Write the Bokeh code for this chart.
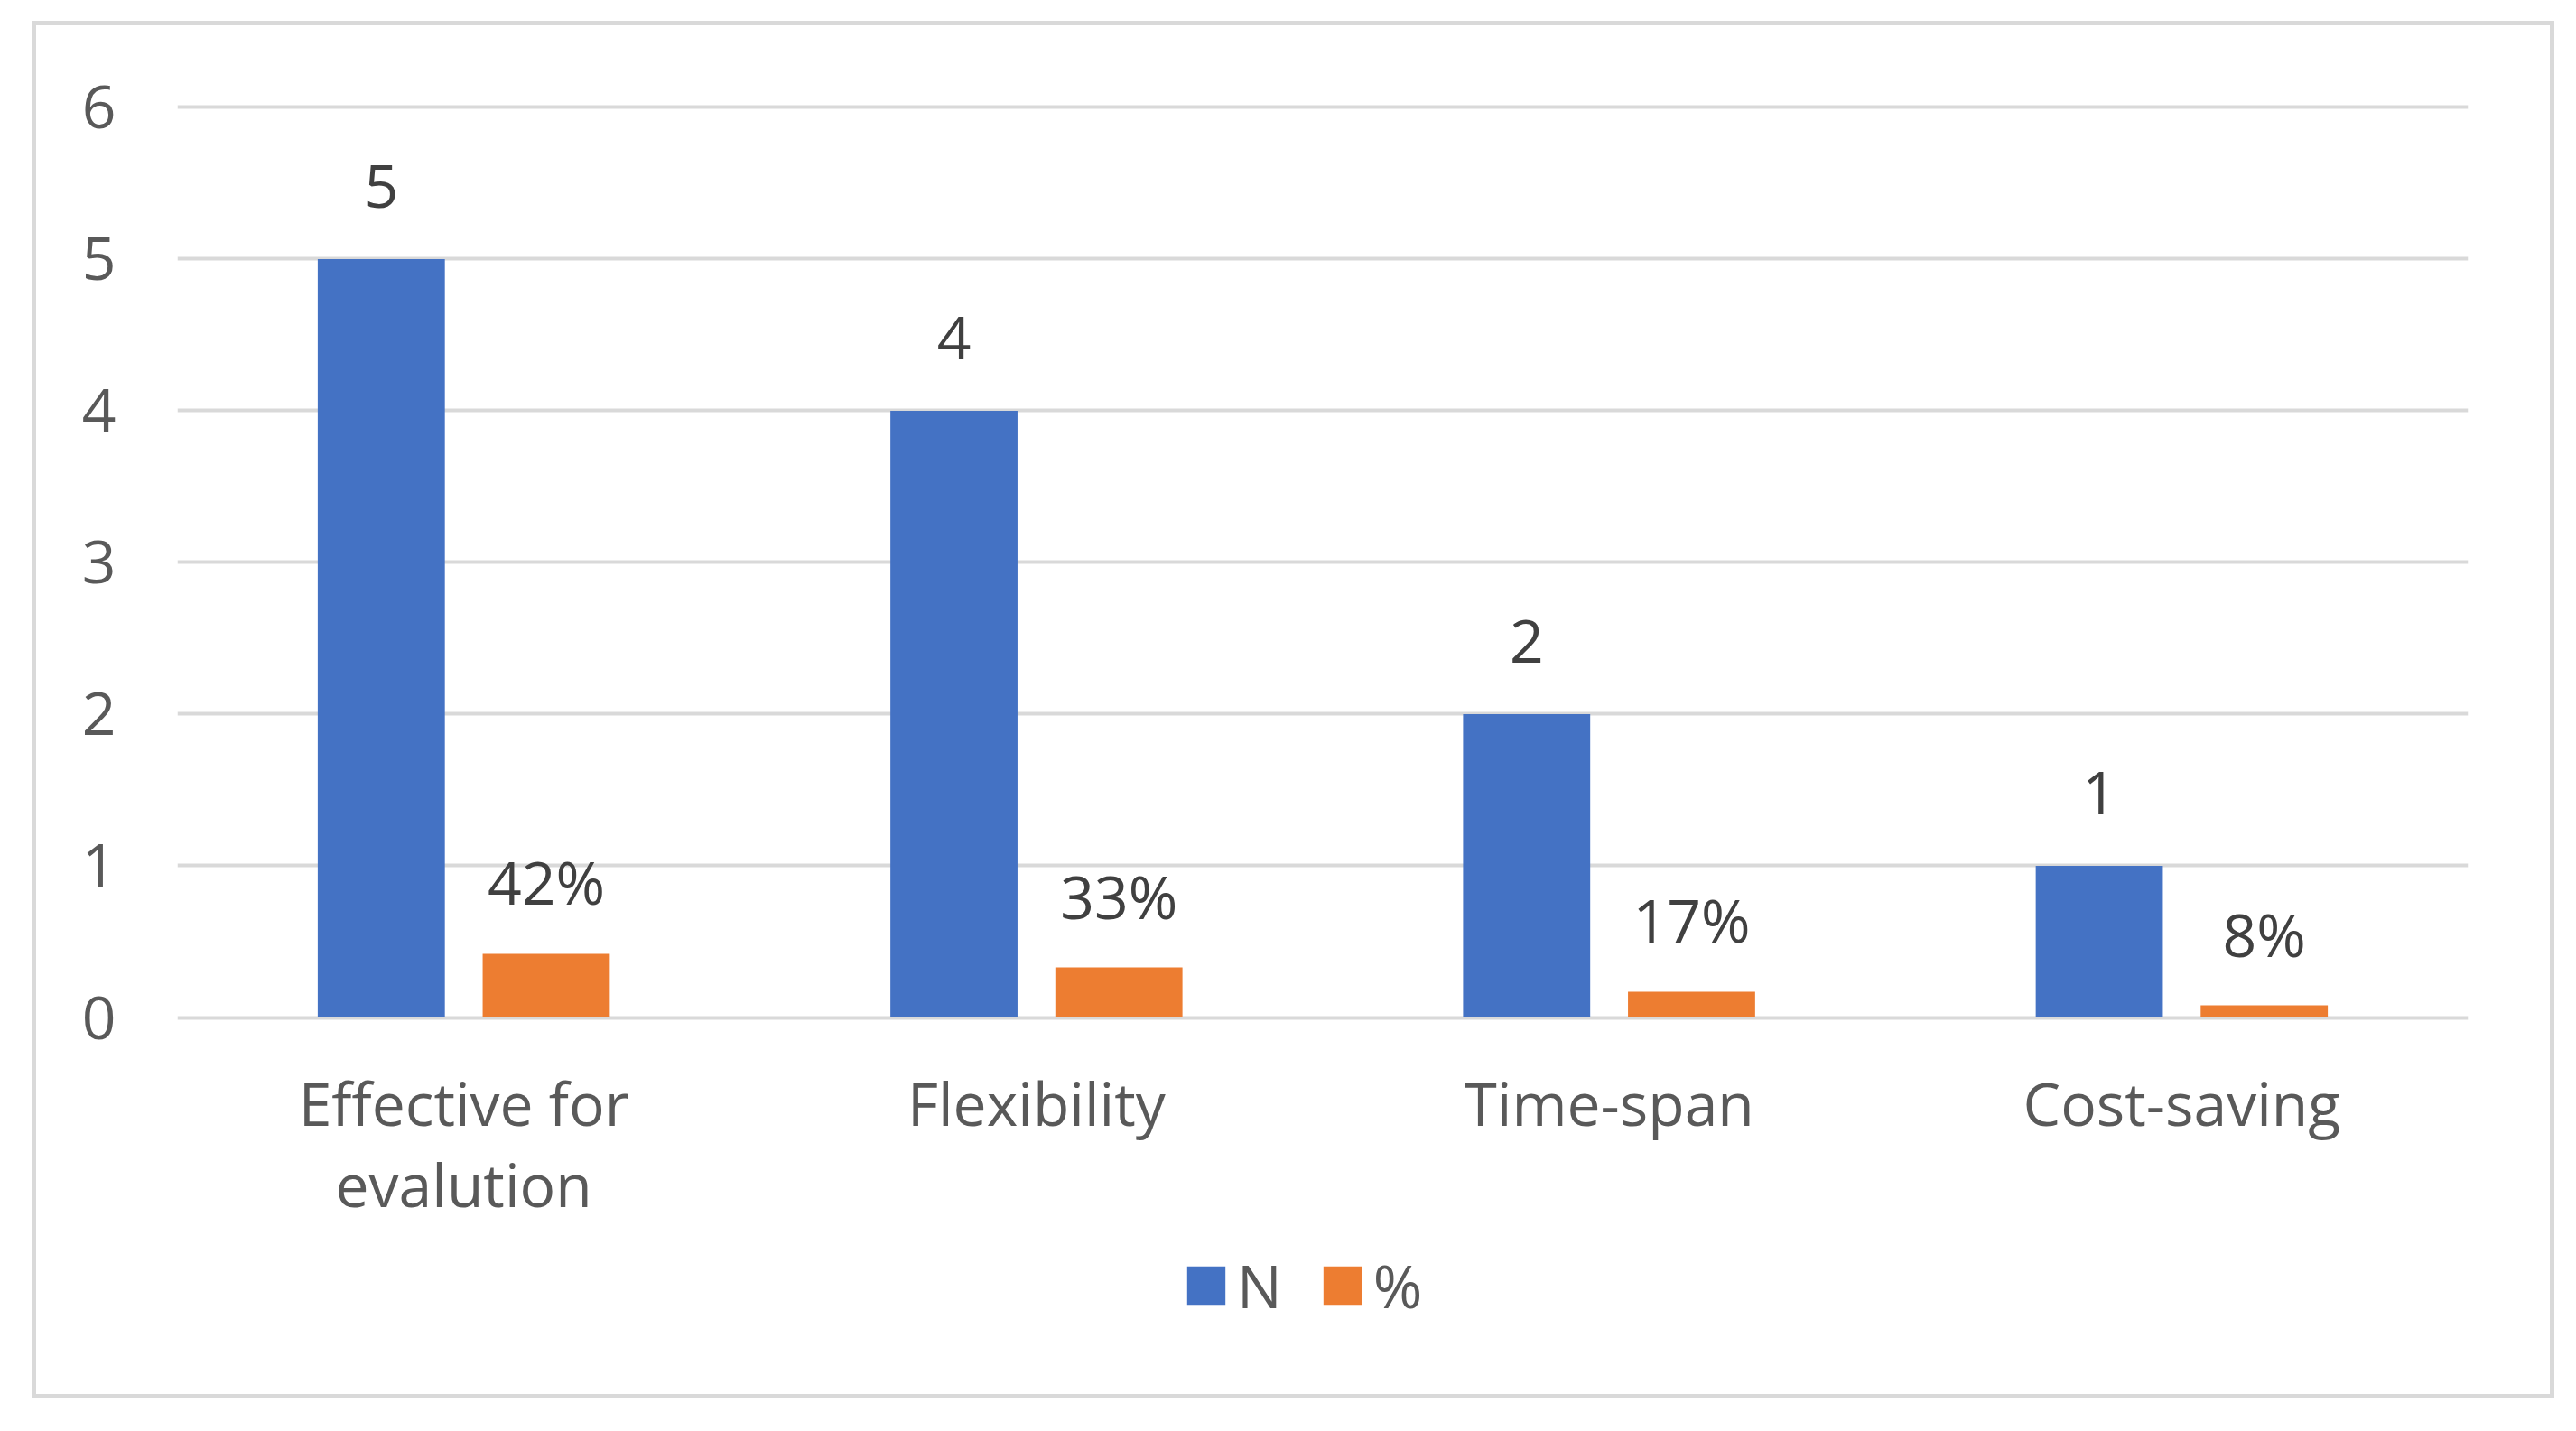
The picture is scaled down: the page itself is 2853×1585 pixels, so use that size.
from bokeh.plotting import figure
from bokeh.models import (ColumnDataSource, FactorRange, Range1d, FixedTicker,
                          LabelSet, Legend, LegendItem)
from bokeh.core.properties import value
from bokeh.transform import dodge
from bokeh.embed import file_html
from bokeh.resources import INLINE

# ---- data ----
categories = ["Effective for\nevalution", "Flexibility", "Time-span", "Cost-saving"]
n_values = [5, 4, 2, 1]
pct_values = [0.42, 0.33, 0.17, 0.08]
n_labels = ["5", "4", "2", "1"]
pct_labels = ["42%", "33%", "17%", "8%"]
y_ticks = [0, 1, 2, 3, 4, 5, 6]
series_names = ["N", "%"]

FONT = "Open Sans"
FS = "66px"
BLUE = "#4472C4"
ORANGE = "#ED7D31"
GRID = "#D9D9D9"

W, H = 2784, 1516

src = ColumnDataSource(dict(cat=categories, n=n_values, pct=pct_values,
                            n_label=n_labels, pct_label=pct_labels))

p = figure(x_range=FactorRange(factors=categories),
           y_range=Range1d(-2.33, 6.02),
           width=W, height=H,
           output_backend="svg", toolbar_location=None,
           min_border_left=156, min_border_right=91,
           min_border_top=87, min_border_bottom=26)
p.styles = {"outline": "5px solid #D9D9D9", "margin-left": "40px", "margin-top": "28px"}
p.outline_line_color = None
p.background_fill_color = "white"
p.border_fill_color = "white"

r1 = p.vbar(x=dodge("cat", -0.144, range=p.x_range), top="n", width=0.222,
            source=src, fill_color=BLUE, line_color=None)
r2 = p.vbar(x=dodge("cat", 0.144, range=p.x_range), top="pct", width=0.222,
            source=src, fill_color=ORANGE, line_color=None)

lab1 = LabelSet(x=dodge("cat", -0.144, range=p.x_range), y="n", text="n_label",
                source=src, y_offset=80, text_align="center", text_baseline="middle",
                text_font=value(FONT), text_font_size=value(FS), text_color="#404040")
lab2 = LabelSet(x=dodge("cat", 0.144, range=p.x_range), y="pct", text="pct_label",
                source=src, y_offset=80, text_align="center", text_baseline="middle",
                text_font=value(FONT), text_font_size=value(FS), text_color="#404040")
p.add_layout(lab1)
p.add_layout(lab2)

# axes
p.yaxis.ticker = FixedTicker(ticks=y_ticks)
p.ygrid.ticker = FixedTicker(ticks=y_ticks)
p.ygrid.grid_line_color = GRID
p.ygrid.grid_line_width = 4
p.xgrid.grid_line_color = None
for ax in (p.xaxis[0], p.yaxis[0]):
    ax.axis_line_color = None
    ax.major_tick_line_color = None
    ax.minor_tick_line_color = None
    ax.major_label_text_font = FONT
    ax.major_label_text_font_size = FS
    ax.major_label_text_color = "#595959"
p.yaxis.major_label_standoff = 62
p.xaxis.fixed_location = 0
p.xaxis.major_label_standoff = 43
p.xaxis.major_label_text_line_height = 1.0

legend = Legend(items=[LegendItem(label=series_names[0], renderers=[r1]),
                       LegendItem(label=series_names[1], renderers=[r2])],
                orientation="horizontal", location=(1113, 50),
                padding=0, margin=0, spacing=40,
                glyph_width=53, glyph_height=53, label_standoff=8,
                label_text_font=FONT, label_text_font_size=FS,
                label_text_color="#595959",
                border_line_color=None, background_fill_alpha=0)
p.add_layout(legend, "center")

open("out.html", "w").write(file_html(p, INLINE))
